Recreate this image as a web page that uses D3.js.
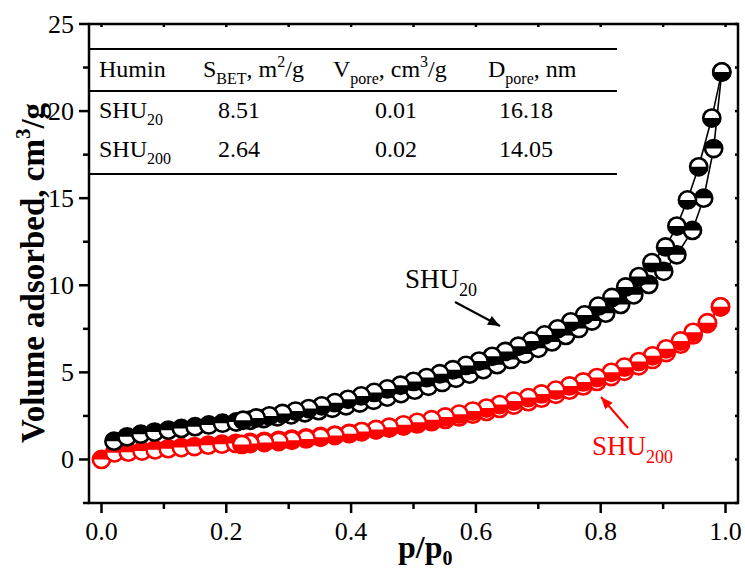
<!DOCTYPE html>
<html><head><meta charset="utf-8">
<script src="https://cdn.jsdelivr.net/npm/d3@7"></script>
<style>body{margin:0;background:#fff}svg{display:block}text{font-family:"Liberation Serif","Times New Roman",serif}</style>
</head><body><svg id="c" width="745" height="574"></svg>
<script>
// ---- data ----
const shu20AdsP = [0.02,0.041,0.063,0.085,0.107,0.128,0.15,0.172,0.194,0.216,0.238,0.26,0.282,0.304,0.326,0.348,0.37,0.392,0.414,0.436,0.458,0.48,0.502,0.524,0.546,0.568,0.59,0.612,0.634,0.656,0.678,0.70,0.722,0.744,0.765,0.786,0.808,0.832,0.853,0.877,0.901,0.922,0.947,0.965,0.981,0.994];
const shu20AdsV = [1.05,1.30,1.45,1.57,1.68,1.78,1.88,1.98,2.08,2.15,2.25,2.35,2.45,2.56,2.68,2.80,2.94,3.08,3.24,3.40,3.58,3.78,3.98,4.20,4.42,4.66,4.90,5.16,5.44,5.74,6.05,6.38,6.75,7.12,7.52,7.95,8.40,8.90,9.45,10.05,10.80,11.75,13.15,15.0,17.85,22.25];
const shu20DesP = [0.994,0.978,0.957,0.939,0.922,0.904,0.882,0.861,0.84,0.818,0.796,0.774,0.752,0.731,0.71,0.689,0.668,0.647,0.626,0.605,0.584,0.563,0.542,0.521,0.5,0.479,0.458,0.437,0.416,0.395,0.374,0.353,0.332,0.311,0.29,0.269,0.248,0.227];
const shu20DesV = [22.25,19.6,16.8,14.9,13.4,12.2,11.3,10.5,9.9,9.3,8.8,8.3,7.9,7.5,7.15,6.8,6.5,6.2,5.92,5.65,5.4,5.15,4.92,4.7,4.48,4.26,4.05,3.85,3.65,3.45,3.26,3.08,2.92,2.78,2.64,2.5,2.38,2.25];
const shu200AdsP = [0.0,0.021,0.043,0.065,0.086,0.107,0.128,0.149,0.171,0.193,0.215,0.238,0.261,0.284,0.305,0.328,0.351,0.374,0.397,0.417,0.44,0.461,0.484,0.506,0.529,0.551,0.573,0.595,0.617,0.638,0.661,0.684,0.705,0.728,0.75,0.772,0.794,0.817,0.838,0.861,0.883,0.905,0.928,0.948,0.971,0.992];
const shu200AdsV = [0.0,0.38,0.42,0.48,0.55,0.62,0.68,0.74,0.82,0.88,0.92,0.98,1.04,1.10,1.17,1.24,1.32,1.40,1.50,1.60,1.70,1.80,1.92,2.04,2.17,2.30,2.44,2.60,2.76,2.93,3.12,3.32,3.52,3.74,3.98,4.22,4.48,4.76,5.06,5.38,5.74,6.14,6.62,7.15,7.80,8.76];
const shu200DesP = [0.992,0.971,0.948,0.928,0.905,0.883,0.861,0.838,0.817,0.794,0.772,0.75,0.728,0.705,0.684,0.661,0.638,0.617,0.595,0.573,0.551,0.529,0.506,0.484,0.461,0.44,0.417,0.397,0.374,0.351,0.328,0.305,0.284,0.261,0.238,0.225];
const shu200DesV = [8.76,7.85,7.3,6.8,6.35,5.95,5.62,5.3,5.0,4.7,4.45,4.22,3.98,3.76,3.55,3.35,3.15,2.95,2.78,2.6,2.44,2.28,2.13,1.99,1.85,1.72,1.6,1.48,1.37,1.27,1.18,1.1,1.03,0.97,0.91,0.86];
const xTicks = [0.0,0.2,0.4,0.6,0.8,1.0];
const yTicks = [0,5,10,15,20,25];
const tableRows = [["SHU","20","8.51","0.01","16.18"],["SHU","200","2.64","0.02","14.05"]];

const svg = d3.select("#c");
const x = d3.scaleLinear().domain([-0.02,1.02]).range([89,738]);
const y = d3.scaleLinear().domain([-2.5,25]).range([503,24]);

// axes
const fmtX = d3.format(".1f");
const xMinor = d3.range(0,1.01,0.1);
const yMinor = d3.range(-2.5,25.1,2.5);
const ax = svg.append("g");
function tickLines(g, vals, pos, len, orient){
  g.selectAll(null).data(vals).join("line")
   .attr("x1", d=> orient==="v"? x(d) : pos)
   .attr("x2", d=> orient==="v"? x(d) : pos+len)
   .attr("y1", d=> orient==="v"? pos : y(d))
   .attr("y2", d=> orient==="v"? pos+len : y(d))
   .attr("stroke","#000").attr("stroke-width",2.5);
}
tickLines(ax, xMinor.filter((d,i)=>i%2===0), 503, 10, "v");
tickLines(ax, xMinor.filter((d,i)=>i%2===1), 503, 6, "v");
tickLines(ax, xMinor, 24, 3, "v");
tickLines(ax, yTicks, 89, -10, "h");
tickLines(ax, yMinor.filter(d=>d%5!==0), 89, -6, "h");
tickLines(ax, yMinor, 738, -3, "h");
ax.selectAll(null).data(xTicks).join("text")
  .attr("x",d=>x(d)).attr("y",540).attr("text-anchor","middle")
  .attr("font-size",26).text(d=>fmtX(d));
ax.selectAll(null).data(yTicks).join("text")
  .attr("x",74).attr("y",d=>y(d)+9).attr("text-anchor","end")
  .attr("font-size",26).text(d=>d);
svg.append("rect").attr("x",89).attr("y",24).attr("width",649).attr("height",479)
  .attr("fill","none").attr("stroke","#000").attr("stroke-width",2.5);

// axis titles
const xt = svg.append("text").attr("x",398).attr("y",558).attr("font-size",32).attr("font-weight","bold");
xt.append("tspan").text("p/p");
xt.append("tspan").attr("font-size",20).attr("dy",7).text("0");
const yt = svg.append("text").attr("transform","translate(44,273) rotate(-90)").attr("text-anchor","middle")
  .attr("font-size",33).attr("font-weight","bold");
yt.append("tspan").text("Volume adsorbed, cm");
yt.append("tspan").attr("font-size",21).attr("dy",-14).text("3");
yt.append("tspan").attr("dy",14).text("/g");

// series
function series(P,V,color,half){
  const pts = P.map((p,i)=>[p,V[i]]);
  svg.append("path").datum(pts)
    .attr("d", d3.line().x(d=>x(d[0])).y(d=>y(d[1])))
    .attr("fill","none").attr("stroke",color).attr("stroke-width",1.6);
  const r = 8.8;
  const g = svg.append("g").selectAll(null).data(pts).join("g")
    .attr("transform",d=>`translate(${x(d[0])},${y(d[1])})`);
  g.append("circle").attr("r",r).attr("fill","#fff");
  g.append("path").attr("d", half==="top" ? `M${-r},0A${r},${r} 0 0 1 ${r},0Z` : `M${-r},0A${r},${r} 0 0 0 ${r},0Z`)
    .attr("fill",color);
  g.append("circle").attr("r",r-0.2).attr("fill","none").attr("stroke",color).attr("stroke-width",2.6);
}
series(shu200AdsP,shu200AdsV,"#ff0000","top");
series(shu200DesP,shu200DesV,"#ff0000","bottom");
series(shu20AdsP,shu20AdsV,"#000","top");
series(shu20DesP,shu20DesV,"#000","bottom");

// annotations
function arrow(x1,y1,x2,y2,color){
  svg.append("line").attr("x1",x1).attr("y1",y1).attr("x2",x2).attr("y2",y2)
    .attr("stroke",color).attr("stroke-width",2);
  const a = Math.atan2(y2-y1,x2-x1), L=12, w=5;
  const bx = x2-L*Math.cos(a), by = y2-L*Math.sin(a);
  svg.append("path").attr("d",`M${x2},${y2}L${bx+w*Math.sin(a)},${by-w*Math.cos(a)}L${bx-w*Math.sin(a)},${by+w*Math.cos(a)}Z`).attr("fill",color);
}
arrow(455,302,500,326,"#000");
arrow(628,428,601,397,"#ff0000");
const l1 = svg.append("text").attr("x",405).attr("y",288).attr("font-size",27);
l1.append("tspan").text("SHU"); l1.append("tspan").attr("font-size",18).attr("dy",8).text("20");
const l2 = svg.append("text").attr("x",592).attr("y",455).attr("font-size",27).attr("fill","#ff0000");
l2.append("tspan").text("SHU"); l2.append("tspan").attr("font-size",18).attr("dy",8).text("200");

// table
[49,91,174].forEach(yy=>svg.append("line").attr("x1",89).attr("x2",617).attr("y1",yy).attr("y2",yy).attr("stroke","#000").attr("stroke-width",2));
const fs=24, sfs=16;
function rich(xx,yy,parts,anchor){
  const t = svg.append("text").attr("x",xx).attr("y",yy).attr("font-size",fs).attr("text-anchor",anchor||"start");
  parts.forEach(p=>{
    const s = t.append("tspan").text(p.t);
    if(p.sub){ s.attr("font-size",sfs).attr("dy",7); }
    else if(p.sup){ s.attr("font-size",sfs).attr("dy",-10); }
    else if(p.back){ s.attr("dy",p.back); }
  });
  return t;
}
rich(99,77,[{t:"Humin"}]);
rich(203,77,[{t:"S"},{t:"BET",sub:1},{t:", m",back:-7},{t:"2",sup:1},{t:"/g",back:10}]);
rich(333,77,[{t:"V"},{t:"pore",sub:1},{t:", cm",back:-7},{t:"3",sup:1},{t:"/g",back:10}]);
rich(488,77,[{t:"D"},{t:"pore",sub:1},{t:", nm",back:-7}]);
const rowY=[118,157];
tableRows.forEach((r,i)=>{
  rich(99,rowY[i],[{t:r[0]},{t:r[1],sub:1}]);
  rich(218,rowY[i],[{t:r[2]}]);
  rich(375,rowY[i],[{t:r[3]}]);
  rich(499,rowY[i],[{t:r[4]}]);
});
</script></body></html>
